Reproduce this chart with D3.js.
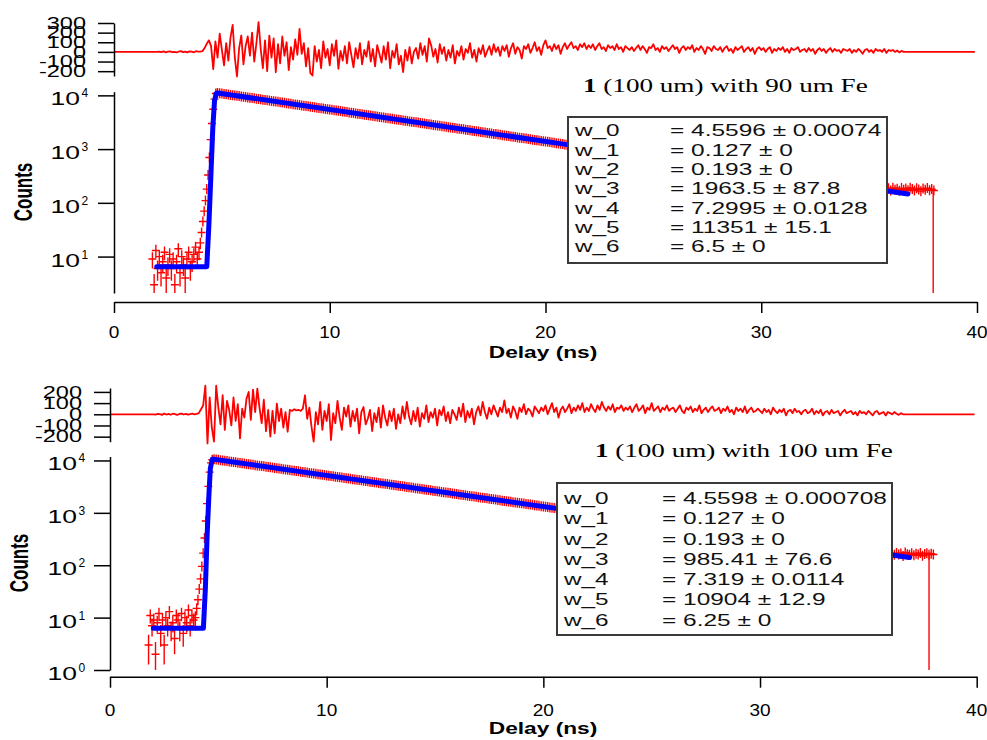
<!DOCTYPE html>
<html>
<head>
<meta charset="utf-8">
<script src="https://d3js.org/d3.v7.min.js"></script>
<style>
  body { margin: 0; background: #fff; }
  svg { display: block; }
</style>
</head>
<body>
<svg id="chart" width="987" height="740"></svg>
<script>
// ---------------- data ----------------
const delayDomain = [0, 40];
const delayTicks = [0, 10, 20, 30, 40];

const resTicksTop = [-200, -100, 0, 100, 200, 300];
const resTicksBot = [-200, -100, 0, 100, 200];
const resDomainTop = [-250, 300];
const resDomainBot = [-245, 235];
const countsTicksTop = [10, 100, 1000, 10000];
const countsTicksBot = [1, 10, 100, 1000, 10000];
const countsDomainTop = [2.1, 11700];
const countsDomainBot = [1, 11900];

// residual wave: flat 0 from resFlatStart, sampled from resStart every resStep, flat 0 to resFlatEnd
const resFlatStart = 0, resFlatEnd = 39.9, resStart = 2.0, resStep = 0.1;
const residualTop = [
  0,3,-2,5,-4,2,6,-3,1,-6,4,8,-2,3,-5,6,2,-4,7,3,
  2,8,40,85,120,60,-180,110,-60,190,20,-140,90,-90,150,280,-60,-255,40,170,
  -130,60,160,-40,200,-100,90,310,30,-170,120,-200,170,-60,140,-210,80,-120,160,-40,
  100,-190,50,-80,130,-30,240,-20,90,-150,40,-220,-245,60,-100,20,-170,110,-60,30,
  -140,80,-40,120,-175,10,-90,60,-120,100,-30,-160,40,-70,90,-130,20,-50,110,-100,
  30,-150,70,-20,-110,60,-80,100,-170,10,-60,80,-130,-40,-210,20,-90,50,-120,0,
  40,-70,90,-30,60,-100,140,70,-50,30,-110,80,-20,50,-90,20,-60,70,-120,10,
  -40,60,-80,30,-10,90,-60,20,-100,40,-20,70,-50,10,60,-30,80,0,50,-40,
  60,10,70,-50,40,90,-20,50,20,-70,60,30,80,-10,40,100,10,50,-30,70,
  120,40,60,10,80,30,70,-20,50,90,30,70,100,40,60,20,80,50,90,30,
  70,40,80,20,60,90,30,50,10,70,40,60,20,80,30,50,0,60,40,20,
  50,10,40,70,20,60,30,-10,50,40,80,20,40,0,60,30,50,10,40,70,
  30,50,-10,40,60,20,50,30,70,0,40,20,60,30,-20,50,40,10,60,30,
  20,50,0,40,60,10,30,-10,50,20,40,60,0,30,50,10,40,-20,30,50,
  20,40,0,30,50,-10,30,10,40,20,50,0,30,-10,40,20,30,50,0,20,
  30,0,40,10,30,-20,20,40,10,30,-10,20,40,0,30,10,20,-10,30,20,
  10,30,-10,20,0,30,10,-20,20,30,0,20,-10,30,10,20,0,30,-10,20,
  10,20,0,15,-5,10,0
];
const residualBot = [
  0,-3,4,2,-5,6,-2,3,-4,5,1,-6,3,7,-2,4,-3,2,6,-1,
  3,10,45,80,255,-260,150,-120,-245,255,60,-90,170,-140,120,40,-100,150,-60,90,
  -215,50,-30,140,200,-50,220,20,230,60,-80,130,-150,40,-200,30,-170,95,-60,50,
  -120,20,-156,40,30,45,35,40,30,50,170,-40,60,-110,-245,20,-90,110,-140,30,
  -60,90,-230,10,-80,120,-30,-140,60,-20,80,-110,30,-60,50,-170,20,65,-90,-40,
  40,-150,10,-70,60,-120,80,-30,-100,30,-60,50,-130,0,-80,70,-40,110,-20,-90,
  30,-60,60,-110,10,-40,80,-70,20,-30,50,-100,40,-10,70,-60,20,-80,40,0,
  -50,60,-20,95,-70,30,-30,50,-90,20,70,-10,110,20,-40,60,0,80,30,-20,
  60,20,125,10,50,-30,70,30,-40,60,20,90,0,50,30,-20,70,40,10,60,
  30,80,0,50,100,20,60,-30,40,70,20,50,90,10,60,30,80,40,100,20,
  60,30,90,50,20,80,40,110,60,30,70,40,90,20,60,50,80,30,60,40,
  70,20,60,90,30,50,80,10,60,40,100,30,50,70,20,60,40,80,30,50,
  60,20,50,80,30,10,60,40,70,20,50,30,80,10,40,60,20,50,70,30,
  40,60,10,50,30,70,20,40,0,60,30,50,20,70,10,40,60,20,30,50,
  30,10,50,20,40,0,60,30,10,40,20,50,-10,30,40,10,50,20,30,0,
  30,40,10,20,50,0,30,10,40,-10,20,30,0,40,10,20,30,-10,20,40,
  10,20,30,0,20,-10,30,10,20,0,30,10,-10,20,30,0,10,20,-10,20,
  10,0,20,5,-5,10,0
];

// measured counts (red crosses), in segments: start time, bin step, values
const preStart = 1.78, preStep = 0.08;
const preTop = [9,3,13,6,10,5,8,12,4,7,11,6,9,3,8,14,5,10,7,4,9,12,6,8,11,15,9];
const preBot = [3,11,7,9,2,8,12,5,9,3,10,7,13,6,8,4,11,9,6,12,5,10,8,14,7,11,9];
const riseStart = 3.94, riseStep = 0.06;
const riseTop = [12,18,28,45,70,110,180,330,700,1500,3000,5500,8500,10800];
const riseBot = [10,15,22,35,55,95,170,330,700,1500,3200,6000,9000,10300];
const decayStart = 4.8, decayStep = 0.1;
const decayTop = [
  11100,10930,10790,10620,10510,10350,10210,10090,9960,9820,9680,9560,9420,9300,9150,9040,8920,8790,8680,8550,
  8440,8330,8200,8100,7990,7870,7780,7660,7570,7450,7360,7260,7160,7060,6970,6870,6780,6690,6600,6500,
  6420,6330,6240,6160,6080,5990,5910,5830,5750,5680,5600,5520,5440,5370,5300,5220,5150,5090,5020,4950,
  4880,4810,4750,4680,4620,4560,4490,4430,4370,4310,4260,4200,4140,4080,4030,3970,3920,3870,3810,3760,
  3710,3660,3610,3560,3510,3470,3420,3370,3330,3280,3240,3190,3150,3110,3060,3020,2980,2940,2900,2860,
  2820,2780,2740,2710,2670,2630,2600,2560,2530,2490,2460,2430,2390,2360,2330,2300,2270,2240,2200,2180,
  2140,2120,2090,2060,2030,2000,1980,1950,1920,1900,1870,1850,1820,1800,1770,1750,1720,1700,1680,1650,
  1630,1610,1590,1570,1540,1520,1500,1480,1460,1440,1420,1400,1380,1370,1350,1330,1310,1290,1270,1260,
  1240,1220,1210
];
const decayBot = [
  10550,10400,10270,10120,9990,9850,9720,9590,9460,9330,9200,9080,8960,8830,8710,8600,8480,8370,8250,8140,
  8030,7920,7810,7710,7600,7500,7400,7300,7200,7100,7000,6910,6810,6720,6630,6540,6450,6360,6280,6190,
  6110,6030,5940,5860,5780,5710,5630,5550,5480,5400,5330,5260,5180,5110,5040,4980,4910,4840,4780,4710,
  4650,4580,4520,4460,4400,4340,4280,4220,4170,4110,4050,4000,3940,3890,3840,3790,3730,3680,3630,3580,
  3540,3490,3440,3390,3350,3300,3260,3210,3170,3130,3080,3040,3000,2960,2920,2880,2840,2800,2770,2730,
  2690,2650,2620,2580,2550,2510,2480,2450,2410,2380,2350,2320,2280,2250,2220,2190,2160,2130,2100,2080,
  2050,2020,1990,1960,1940,1910,1890,1860,1840,1810,1790,1760,1740,1710,1690,1670,1650,1620,1600,1580,
  1560,1540,1520,1500,1480,1460,1440,1420,1400,1380,1360,1340,1320,1310,1290,1270,1250,1240,1220,1200,
  1190,1170,1150
];
const tailStep = 0.1;
const tailStartTop = 35.8;
const tailTop = [178,186,170,190,175,182,168,188,176,184,172,190,180,170,186,178,165,184,176,188,172,180,170];
const tailStartBot = 36.1;
const tailBot = [165,158,172,160,168,150,175,162,158,170,155,166,160,172,152,164,170,158,166,160];
// last bin falls off the log axis
const dropTop = [37.97, 176];
const dropBot = [37.8, 160];

// fit curve (blue)
const fitTopT = [1.98, 4.30, 4.40, 4.50, 4.58, 4.66, 4.74, 4.8, 21.0, 36.8];
const fitTopV = [6.5, 6.5, 40, 400, 2500, 8000, 10900, 11100, 1212, 146];
const fitBotT = [2.0, 4.31, 4.40, 4.48, 4.56, 4.63, 4.72, 4.8, 21.0, 36.9];
const fitBotV = [6.25, 6.25, 35, 350, 2000, 7000, 10500, 10550, 1152, 140];

// fit parameters box
const paramNames = ["w_0", "w_1", "w_2", "w_3", "w_4", "w_5", "w_6"];
const paramTop = ["4.5596 ± 0.00074", "0.127 ± 0", "0.193 ± 0", "1963.5 ± 87.8", "7.2995 ± 0.0128", "11351 ± 15.1", "6.5 ± 0"];
const paramBot = ["4.5598 ± 0.000708", "0.127 ± 0", "0.193 ± 0", "985.41 ± 76.6", "7.319 ± 0.0114", "10904 ± 12.9", "6.25 ± 0"];

const titleBold = "1";
const titleTop = " (100 um) with 90 um Fe";
const titleBot = " (100 um) with 100 um Fe";
const xTitle = "Delay (ns)";
const yTitle = "Counts";

// ---------------- drawing ----------------
const svg = d3.select('#chart');
const FONT = '"Liberation Sans", Arial, Helvetica, sans-serif';
const SERIF = '"Liberation Serif", "Times New Roman", Times, serif';
const RED = '#ff0000', BLUE = '#0000ff';

// the original is horizontally stretched: widen text around its anchor
function stretch(sel, sx) {
  sel.attr('transform', function () {
    const x = +this.getAttribute('x') || 0;
    const y = +this.getAttribute('y') || 0;
    return `translate(${x},${y}) scale(${sx},1) translate(${-x},${-y})`;
  });
}

const panels = [
  {
    residual: residualTop, resDomain: resDomainTop, resTicks: resTicksTop,
    countsDomain: countsDomainTop, countsTicks: countsTicksTop,
    segments: [
      { start: preStart, step: preStep, values: preTop },
      { start: riseStart, step: riseStep, values: riseTop },
      { start: decayStart, step: decayStep, values: decayTop },
      { start: tailStartTop, step: tailStep, values: tailTop }
    ],
    drop: dropTop, fitT: fitTopT, fitV: fitTopV, params: paramTop, title: titleTop,
    L: { left: 114, right: 977, resTop: 23, resBottom: 76, mainTop: 91.7, mainBottom: 293,
         xAxisY: 302, xLabelY: 338, xTitleX: 543, xTitleY: 358, countsX: 31.5, countsY: 192,
         resLabelX: 86, logLabelX: 80,
         box: { x: 568, y: 117, w: 319, h: 146, nameX: 575, valX: 670, row0: 136.5, rowStep: 19.3 },
         title: { x: 583, y: 92, w: 285 } }
  },
  {
    residual: residualBot, resDomain: resDomainBot, resTicks: resTicksBot,
    countsDomain: countsDomainBot, countsTicks: countsTicksBot,
    segments: [
      { start: preStart, step: preStep, values: preBot },
      { start: riseStart, step: riseStep, values: riseBot },
      { start: decayStart, step: decayStep, values: decayBot },
      { start: tailStartBot, step: tailStep, values: tailBot }
    ],
    drop: dropBot, fitT: fitBotT, fitV: fitBotV, params: paramBot, title: titleBot,
    L: { left: 110, right: 976.7, resTop: 388, resBottom: 441.7, mainTop: 456.5, mainBottom: 670,
         xAxisY: 676.7, xLabelY: 716, xTitleX: 543, xTitleY: 734, countsX: 28, countsY: 563,
         resLabelX: 82, logLabelX: 77,
         box: { x: 557, y: 483, w: 335, h: 152, nameX: 564, valX: 662, row0: 504, rowStep: 20.3 },
         title: { x: 595, y: 457, w: 298 } }
  }
];

function styleAxis(ax) {
  ax.selectAll('path, line').attr('stroke', '#000').attr('stroke-width', 1.5);
  ax.selectAll('text').remove();
}

function drawPanel(p) {
  const L = p.L;
  const x = d3.scaleLinear().domain(delayDomain).range([L.left, L.right]);
  const yRes = d3.scaleLinear().domain(p.resDomain).range([L.resBottom, L.resTop]);
  const y = d3.scaleLog().domain(p.countsDomain).range([L.mainBottom, L.mainTop]);
  const g = svg.append('g');

  // residual trace
  const resPts = [[resFlatStart, 0]]
    .concat(p.residual.map((v, i) => [resStart + i * resStep, v]))
    .concat([[resFlatEnd, 0]]);
  g.append('path').datum(resPts)
    .attr('d', d3.line().x(d => x(d[0])).y(d => yRes(d[1])))
    .attr('fill', 'none').attr('stroke', RED).attr('stroke-width', 1.8)
    .attr('stroke-linejoin', 'round');

  // measured counts: + markers with Poisson error bars
  const pts = [];
  p.segments.forEach(s => s.values.forEach((v, i) => pts.push([s.start + i * s.step, v])));
  const lo = p.countsDomain[0];
  let d = '';
  pts.forEach(([t, v]) => {
    const px = x(t), py = y(v), e = Math.sqrt(v);
    const yHi = Math.min(py - 5, y(v + e));
    const yLo = Math.max(py + 5, y(Math.max(v - e, lo)));
    d += `M${px - 4},${py}H${px + 4}M${px},${yHi}V${yLo}`;
  });
  g.append('path').attr('d', d).attr('fill', 'none')
    .attr('stroke', RED).attr('stroke-width', 1.4);
  g.append('line')
    .attr('x1', x(p.drop[0])).attr('x2', x(p.drop[0]))
    .attr('y1', y(p.drop[1])).attr('y2', L.mainBottom)
    .attr('stroke', RED).attr('stroke-width', 1.4);

  // fit
  g.append('path').datum(p.fitT.map((t, i) => [t, p.fitV[i]]))
    .attr('d', d3.line().x(d => x(d[0])).y(d => y(d[1])))
    .attr('fill', 'none').attr('stroke', BLUE).attr('stroke-width', 5)
    .attr('stroke-linejoin', 'round').attr('stroke-linecap', 'round');

  // axes
  const axRes = g.append('g').attr('transform', `translate(${L.left},0)`)
    .call(d3.axisLeft(yRes).tickValues(p.resTicks).tickSize(16).tickSizeOuter(0));
  styleAxis(axRes);
  const axY = g.append('g').attr('transform', `translate(${L.left},0)`)
    .call(d3.axisLeft(y).tickValues(p.countsTicks).tickSize(16).tickSizeOuter(0));
  styleAxis(axY);
  const axX = g.append('g').attr('transform', `translate(0,${L.xAxisY})`)
    .call(d3.axisBottom(x).tickValues(delayTicks).tickSize(11).tickSizeOuter(0));
  styleAxis(axX);

  const txt = g.append('g').attr('font-family', FONT).attr('fill', '#000');

  txt.selectAll('text.res-lab').data(p.resTicks).join('text')
    .attr('class', 'res-lab')
    .attr('x', L.resLabelX).attr('y', v => yRes(v) + 5.7)
    .attr('text-anchor', 'end').attr('font-size', 16)
    .text(v => v)
    .call(stretch, 1.47);

  txt.selectAll('text.log-base').data(p.countsTicks).join('text')
    .attr('class', 'log-base')
    .attr('x', L.logLabelX).attr('y', v => y(v) + 10)
    .attr('text-anchor', 'end').attr('font-size', 18)
    .text('10')
    .call(stretch, 1.47);
  txt.selectAll('text.log-exp').data(p.countsTicks).join('text')
    .attr('class', 'log-exp')
    .attr('x', L.logLabelX + 1.5).attr('y', v => y(v) + 2)
    .attr('font-size', 12)
    .text(v => Math.round(Math.log10(v)));

  txt.selectAll('text.x-lab').data(delayTicks).join('text')
    .attr('class', 'x-lab')
    .attr('x', v => x(v)).attr('y', L.xLabelY)
    .attr('text-anchor', 'middle').attr('font-size', 17)
    .text(v => v)
    .call(stretch, 1.12);

  txt.append('text')
    .attr('x', L.xTitleX).attr('y', L.xTitleY)
    .attr('text-anchor', 'middle').attr('font-size', 16).attr('font-weight', 'bold')
    .text(xTitle)
    .call(stretch, 1.42);

  txt.append('text')
    .attr('transform', `translate(${L.countsX},${L.countsY}) scale(1.47,1) rotate(-90)`)
    .attr('text-anchor', 'middle').attr('font-size', 17).attr('font-weight', 'bold')
    .text(yTitle);

  // parameter box
  const B = L.box;
  g.append('rect').attr('x', B.x).attr('y', B.y).attr('width', B.w).attr('height', B.h)
    .attr('fill', '#fff').attr('stroke', '#3a3a3a').attr('stroke-width', 2);
  const bt = g.append('g').attr('font-family', FONT).attr('font-size', 16).attr('fill', '#111');
  bt.selectAll('text.pn').data(paramNames).join('text')
    .attr('class', 'pn')
    .attr('x', B.nameX).attr('y', (s, i) => B.row0 + i * B.rowStep)
    .text(s => s)
    .call(stretch, 1.52);
  bt.selectAll('text.pv').data(p.params).join('text')
    .attr('class', 'pv')
    .attr('x', B.valX).attr('y', (s, i) => B.row0 + i * B.rowStep)
    .text(s => '= ' + s)
    .call(stretch, 1.53);

  // sample title
  const T = L.title;
  const title = g.append('text')
    .attr('x', T.x).attr('y', T.y)
    .attr('font-family', SERIF).attr('font-size', 19).attr('fill', '#000');
  title.append('tspan').attr('font-weight', 'bold').text(titleBold);
  title.append('tspan').text(p.title);
  const natural = title.node().getComputedTextLength();
  title.call(stretch, T.w / natural);
}

panels.forEach(drawPanel);
</script>
</body>
</html>
